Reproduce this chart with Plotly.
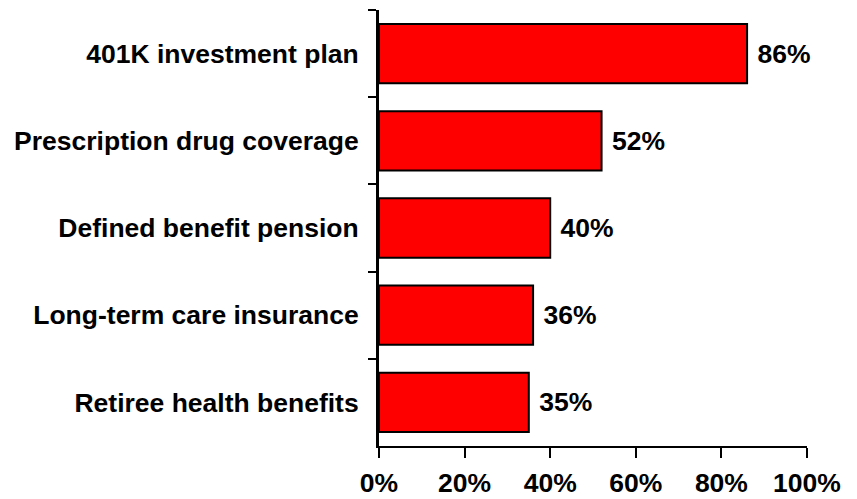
import plotly.graph_objects as go

# Benefit categories (top to bottom) and share of respondents
categories = [
    "401K investment plan",
    "Prescription drug coverage",
    "Defined benefit pension",
    "Long-term care insurance",
    "Retiree health benefits",
]
values = [86, 52, 40, 36, 35]
x_ticks = [0, 20, 40, 60, 80, 100]
x_tick_labels = ["0%", "20%", "40%", "60%", "80%", "100%"]

FONT = "Liberation Sans, Arial, sans-serif"
SIZE = 26.5

fig = go.Figure(
    go.Bar(
        x=values,
        y=categories,
        orientation="h",
        marker=dict(color="#FF0000", line=dict(color="#000000", width=2)),
        text=[f" {v}%" for v in values],
        textposition="outside",
        textfont=dict(family=FONT, size=SIZE, color="#000000", weight="bold"),
        cliponaxis=False,
    )
)

fig.update_layout(
    width=857,
    height=499,
    margin=dict(l=379, r=50, t=10, b=53),
    plot_bgcolor="white",
    paper_bgcolor="white",
    bargap=0.32,
    showlegend=False,
    font=dict(family=FONT, size=SIZE, color="#000000", weight="bold"),
)

fig.update_xaxes(
    range=[0, 100],
    tickvals=x_ticks,
    ticktext=x_tick_labels,
    showgrid=False,
    zeroline=False,
    showline=True,
    linecolor="#000000",
    linewidth=2,
    ticks="outside",
    ticklen=10,
    tickwidth=2,
    tickcolor="#000000",
    ticklabelstandoff=2,
    automargin=False,
    tickfont=dict(family=FONT, size=SIZE, color="#000000", weight="bold"),
)

fig.update_yaxes(
    autorange="reversed",
    showgrid=False,
    showline=True,
    linecolor="#000000",
    linewidth=3,
    ticks="outside",
    tickson="boundaries",
    ticklen=8,
    tickwidth=2,
    tickcolor="#000000",
    ticklabelstandoff=12,
    automargin=False,
    tickfont=dict(family=FONT, size=SIZE, color="#000000", weight="bold"),
)

fig.write_html("out.html")
